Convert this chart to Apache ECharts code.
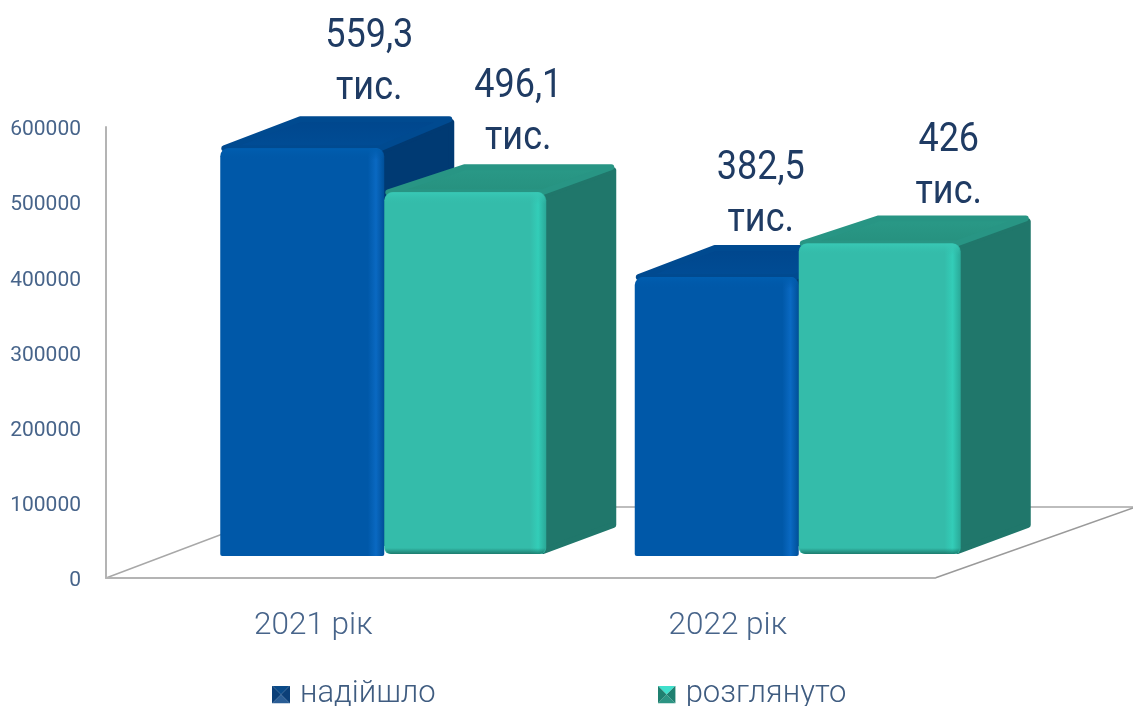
<!DOCTYPE html>
<html><head><meta charset="utf-8">
<style>html,body{margin:0;padding:0;background:#fff}#c{width:1133px;height:706px}</style>
<script src="https://cdn.jsdelivr.net/npm/echarts@6/dist/echarts.min.js"></script>
</head><body><div id="c"></div>
<script>
const categories = ['2021 рік', '2022 рік'];
const receivedName = 'надійшло';
const reviewedName = 'розглянуто';
const received = [559300, 382500];
const reviewed = [496100, 426000];
const receivedLabels = ['559,3\nтис.', '382,5\nтис.'];
const reviewedLabels = ['496,1\nтис.', '426\nтис.'];
const yMax = 600000, yStep = 100000;

const FF = 'Roboto';
const SCALE = 0.97;
const blue = {front:'#0058a8', hi:'#0a69c2', edge:'#004f98', top:['#00468c','#004d96'], topEdge:'#004a90', side:'#003a73', rim:'#005eb0', shade:'rgba(0,40,90,0)', dy:32, r:[8,8,2,2], sideCut:12};
const teal = {front:'#34bcaa', hi:'#33cdb8', edge:'#2aa897', top:['#2a9a88','#26907e'], topEdge:'#289584', side:'#20776b', rim:'#38c9b6', shade:'rgba(10,70,60,0.55)', dy:28, r:[8,8,6,6], sideCut:3};

function bevelIcon(c1,c2,c3,c4){
  const s = "<svg xmlns='http://www.w3.org/2000/svg' width='18' height='18'>"+
    "<polygon points='0,0 18,0 9,9' fill='"+c1+"'/>"+
    "<polygon points='0,18 18,18 9,9' fill='"+c2+"'/>"+
    "<polygon points='0,0 0,18 9,9' fill='"+c3+"'/>"+
    "<polygon points='18,0 18,18 9,9' fill='"+c4+"'/></svg>";
  return 'image://data:image/svg+xml;charset=utf-8,'+encodeURIComponent(s);
}

function barRender(pal, offX, bodyW, baseOff, labelShift){
  return function(params, api){
    const i = api.value(0), v = api.value(1), text = api.value(2);
    const p0 = api.coord([i, 0]);
    const h = api.size([0, v])[1] * SCALE;
    const x0 = p0[0] + offX, x1 = x0 + bodyW;
    const base = p0[1] - baseOff, top = base - h;
    const dxL = 80, dxR = 70, dy = pal.dy;
    const ls = labelShift[i];
    const grad = (stops, v)=>({type:'linear',x:0,y:0,x2:v?0:1,y2:v?1:0,colorStops:stops});
    const children = [
      {type:'polygon', shape:{points:[[x1-3,top+3],[x1+dxR-3,top-dy+6],[x1+dxR-3,base-dy-1],[x1-3,base-pal.sideCut]]},
       style:{fill:pal.side, stroke:pal.side, lineWidth:6, lineJoin:'round'}},
      {type:'polygon', shape:{points:[[x0+4,top],[x0+dxL,top-dy+3],[x1+dxR-5,top-dy+3],[x1-4,top]]},
       style:{fill:grad([{offset:0,color:pal.top[0]},{offset:1,color:pal.top[1]}],true), stroke:pal.topEdge, lineWidth:6, lineJoin:'round'}},
      {type:'rect', shape:{x:x0,y:top,width:bodyW,height:h,r:pal.r},
       style:{fill:grad([{offset:0,color:pal.front},{offset:0.9,color:pal.front},{offset:0.95,color:pal.hi},{offset:1,color:pal.edge}],false)}},
      {type:'rect', shape:{x:x0+1,y:top,width:bodyW-2,height:12,r:[8,8,0,0]},
       style:{fill:grad([{offset:0,color:pal.rim},{offset:1,color:pal.front+'00'}],true)}},
      {type:'rect', shape:{x:x0+1,y:base-6,width:bodyW-2,height:6,r:[0,0,6,6]},
       style:{fill:grad([{offset:0,color:pal.shade.replace(/[\d.]+\)$/,'0)')},{offset:1,color:pal.shade}],true)}},
      {type:'text', x:x0+bodyW/2+ls[0], y:top-ls[1], scaleX:0.9,
       style:{text:text, fill:'#1f3b63', font:'400 40px '+FF, lineHeight:52, align:'center', verticalAlign:'bottom', textAlign:'center', textVerticalAlign:'bottom'}}
    ];
    return {type:'group', children};
  };
}

const chart = echarts.init(document.getElementById('c'), null, {renderer:'canvas'});
chart.setOption({
  animation:false,
  backgroundColor:'#fff',
  grid:{left:106, right:198, top:127, bottom:128},
  legend:{
    left:272, top:679, padding:0, itemGap:222, itemWidth:18, itemHeight:18,
    textStyle:{fontFamily:FF, fontSize:31, fontWeight:300, color:'#3f5c80', padding:[0,0,0,5]},
    data:[
      {name:receivedName, icon:bevelIcon('#0a4a88','#2a5d95','#0b3f78','#0b3f78')},
      {name:reviewedName, icon:bevelIcon('#3fe0cc','#2c9483','#1f8070','#1f8070')}
    ]
  },
  xAxis:{type:'category', data:categories,
    axisLine:{show:true, lineStyle:{color:'#b4b4b4', width:2}},
    axisTick:{show:false},
    axisLabel:{fontFamily:FF, fontSize:31.5, fontWeight:300, color:'#47648a', margin:32}},
  yAxis:{type:'value', min:0, max:yMax, interval:yStep,
    splitLine:{show:false},
    axisLine:{show:true, lineStyle:{color:'#b4b4b4', width:2}},
    axisTick:{show:false},
    axisLabel:{fontFamily:FF, fontSize:21, fontWeight:400, color:'#47648a', margin:25, verticalAlign:'top', lineHeight:6, formatter:(v)=>String(v)}},
  graphic:[
    {type:'polyline', z:0, shape:{points:[[106,578],[294,507],[1133,507]]}, style:{fill:null, stroke:'#a8a8a8', lineWidth:1.5}},
    {type:'line', z:0, shape:{x1:935,y1:578,x2:1133,y2:508}, style:{stroke:'#9a9a9a', lineWidth:1.5}}
  ],
  series:[
    {name:receivedName, type:'custom', coordinateSystem:'cartesian2d', itemStyle:{color:'#0a4a88'},
     clip:false, z:3,
     renderItem:barRender(blue, -93, 164, 22, [[67,33],[44,30]]),
     encode:{x:0,y:1},
     data:received.map((v,i)=>[i,v,receivedLabels[i]])},
    {name:reviewedName, type:'custom', coordinateSystem:'cartesian2d', itemStyle:{color:'#2c9483'},
     clip:false, z:4,
     renderItem:barRender(teal, 71, 162, 24, [[53,27],[69,24]]),
     encode:{x:0,y:1},
     data:reviewed.map((v,i)=>[i,v,reviewedLabels[i]])}
  ]
});
</script></body></html>
